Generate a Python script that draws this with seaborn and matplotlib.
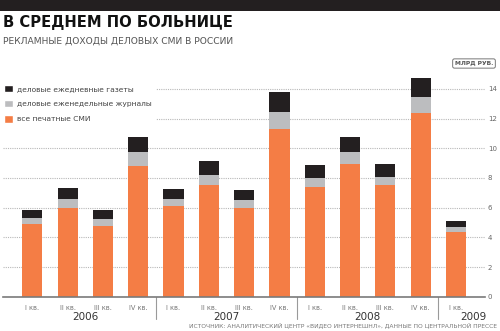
import matplotlib
matplotlib.use("Agg")
import matplotlib.pyplot as plt
import matplotlib.transforms as mtransforms
from matplotlib.patches import Patch, Rectangle
import seaborn as sns
import pandas as pd
import numpy as np

# ---- data ----
quarters = ["I кв.", "II кв.", "III кв.", "IV кв.",
            "I кв.", "II кв.", "III кв.", "IV кв.",
            "I кв.", "II кв.", "III кв.", "IV кв.",
            "I кв."]
years = ["2006", "2007", "2008", "2009"]
print_all = [4.89, 6.00, 4.78, 8.83, 6.13, 7.50, 6.01, 11.33, 7.41, 8.92, 7.53, 12.39, 4.39]
weeklies = [0.41, 0.60, 0.45, 0.90, 0.47, 0.72, 0.50, 1.15, 0.59, 0.81, 0.56, 1.08, 0.30]
dailies = [0.56, 0.74, 0.61, 1.04, 0.68, 0.93, 0.68, 1.32, 0.88, 1.04, 0.86, 1.29, 0.40]
yticks = [0, 2, 4, 6, 8, 10, 12, 14]
legend_labels = ["деловые ежедневные газеты", "деловые еженедельные журналы", "все печатные СМИ"]

C_ORANGE = "#F47D45"
C_GRAY = "#BCBDBF"
C_BLACK = "#231F20"

sns.set_theme(style="white")
plt.rcParams["font.family"] = ["DejaVu Sans"]

df = pd.DataFrame({
    "idx": np.arange(len(quarters)),
    "orange": print_all,
    "gray": weeklies,
    "black": dailies,
})
df["lvl2"] = df["orange"] + df["gray"]
df["lvl3"] = df["lvl2"] + df["black"]

fig = plt.figure(figsize=(5.0, 3.31), dpi=100)
ax = fig.add_axes([0.006, 0.1036, 0.964, 0.6725])

W = 0.57
sns.barplot(data=df, x="idx", y="lvl3", color=C_BLACK, width=W, linewidth=0, saturation=1, ax=ax, zorder=3)
sns.barplot(data=df, x="idx", y="lvl2", color=C_GRAY, width=W, linewidth=0, saturation=1, ax=ax, zorder=3)
sns.barplot(data=df, x="idx", y="orange", color=C_ORANGE, width=W, linewidth=0, saturation=1, ax=ax, zorder=3)

ax.set_xlim(-0.83, 12.82)
ax.set_ylim(0, 15)
ax.set_xlabel("")
ax.set_ylabel("")
for s in ["top", "left", "right"]:
    ax.spines[s].set_visible(False)
ax.spines["bottom"].set_color("#7a7a7a")
ax.spines["bottom"].set_linewidth(1.2)
ax.spines["bottom"].set_zorder(4)

ax.yaxis.tick_right()
ax.set_yticks(yticks)
ax.set_yticklabels([str(v) for v in yticks])
ax.tick_params(axis="y", length=0, pad=2, labelsize=5, labelcolor="#666666")
ax.yaxis.grid(True, linestyle=(0, (1, 1)), color="#b8b8b8", linewidth=0.8, zorder=0)
ax.set_axisbelow(True)

ax.set_xticks(np.arange(len(quarters)))
ax.set_xticklabels(quarters)
ax.tick_params(axis="x", length=0, pad=6, labelsize=4.8, labelcolor="#777777")

trans = mtransforms.blended_transform_factory(ax.transData, ax.transAxes)
for xs in [3.5, 7.5, 11.5]:
    ax.plot([xs, xs], [0, -0.1], color="#9a9a9a", linewidth=0.8, transform=trans, clip_on=False)

year_x = [1.5, 5.5, 9.5, 12.48]
for yx, yl in zip(year_x, years):
    ax.text(yx, -0.09, yl, transform=trans, ha="center", va="center",
            fontsize=7.5, color="#333333")

# legend
handles = [Patch(facecolor=C_BLACK), Patch(facecolor=C_GRAY), Patch(facecolor=C_ORANGE)]
leg = fig.legend(handles, legend_labels, loc="upper left",
                 bbox_to_anchor=(-0.002, 1 - 80 / 331), frameon=True,
                 fontsize=5.4, handlelength=1.2, handleheight=1.2,
                 handletextpad=0.55, labelspacing=1.0, borderpad=0.6,
                 borderaxespad=0)
leg.get_frame().set_facecolor("white")
leg.get_frame().set_edgecolor("none")
leg.get_frame().set_alpha(1)
for t in leg.get_texts():
    t.set_color("#444444")

# header
fig.patches.append(Rectangle((0, 1 - 10.5 / 331), 1, 10.5 / 331, transform=fig.transFigure,
                             facecolor=C_BLACK, edgecolor="none"))
fig.text(3 / 500, 1 - 23 / 331, "В СРЕДНЕМ ПО БОЛЬНИЦЕ", fontsize=10.6, fontweight="heavy",
         color="#111111", ha="left", va="center")
fig.text(3 / 500, 1 - 41.5 / 331, "РЕКЛАМНЫЕ ДОХОДЫ ДЕЛОВЫХ СМИ В РОССИИ", fontsize=6.6,
         color="#555555", ha="left", va="center")

# unit box
fig.text(474 / 500, 1 - 63.5 / 331, "МЛРД РУБ.", fontsize=4.3, fontweight="bold", color="#555555",
         ha="center", va="center",
         bbox=dict(boxstyle="round,pad=0.35,rounding_size=0.3", facecolor="white",
                   edgecolor="#777777", linewidth=0.7))

# source
fig.text(497 / 500, 1 - 325 / 331,
         "ИСТОЧНИК: АНАЛИТИЧЕСКИЙ ЦЕНТР «ВИДЕО ИНТЕРНЕШНЛ», ДАННЫЕ ПО ЦЕНТРАЛЬНОЙ ПРЕССЕ",
         fontsize=4.3, color="#777777", ha="right", va="center")

fig.savefig("out.png", dpi=100)
